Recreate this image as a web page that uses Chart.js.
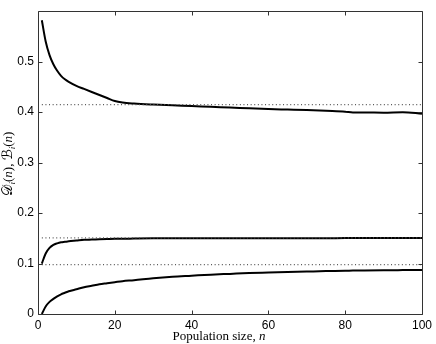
<!DOCTYPE html>
<html>
<head>
<meta charset="utf-8">
<script src="https://cdn.jsdelivr.net/npm/chart.js@4.4.0/dist/chart.umd.min.js"></script>
<style>
  html, body { margin: 0; padding: 0; background: #fff; }
  #grafica { display: block; }
</style>
</head>
<body>
<canvas id="grafica" width="436" height="344"></canvas>
<script>
// DATOS
const nValues = [1, 2, 3, 4, 5, 6, 7, 8, 10, 12, 14, 16, 18, 20, 22, 25, 30, 35, 40, 45, 50, 55, 60, 65, 70, 75, 80, 82, 85, 90, 95, 100];
const curvaD  = [0.582, 0.540, 0.513, 0.495, 0.482, 0.472, 0.465, 0.460, 0.452, 0.446, 0.440, 0.434, 0.428, 0.422, 0.419, 0.417, 0.415, 0.4135, 0.412, 0.4105, 0.409, 0.4075, 0.406, 0.405, 0.404, 0.4025, 0.401, 0.3995, 0.3995, 0.399, 0.400, 0.397];
const curvaB1 = [0.100, 0.120, 0.131, 0.137, 0.140, 0.142, 0.143, 0.144, 0.1455, 0.147, 0.1475, 0.148, 0.1485, 0.149, 0.149, 0.1495, 0.150, 0.150, 0.150, 0.150, 0.150, 0.150, 0.150, 0.150, 0.150, 0.150, 0.1505, 0.1505, 0.1505, 0.1505, 0.1505, 0.1505];
const curvaB2 = [0.000, 0.015, 0.024, 0.030, 0.035, 0.039, 0.042, 0.045, 0.049, 0.053, 0.056, 0.059, 0.061, 0.063, 0.065, 0.067, 0.071, 0.074, 0.076, 0.078, 0.0795, 0.081, 0.082, 0.083, 0.084, 0.085, 0.0855, 0.086, 0.0863, 0.0867, 0.087, 0.0873];

// lineas punteadas (limites)
const limiteN = [1, 100];
const limites = [0.415, 0.151, 0.098];

const xTicks = [0, 20, 40, 60, 80, 100];
const yTicks = [0, 0.1, 0.2, 0.3, 0.4, 0.5];

/////////////

function puntos(xs, ys) {
  return xs.map((x, i) => ({ x: x, y: ys[i] }));
}

const datasets = [];
limites.forEach(v => {
  datasets.push({
    data: puntos(limiteN, [v, v]),
    borderColor: "#555",
    borderWidth: 1.2,
    borderDash: [1, 2.6],
    pointRadius: 0,
    fill: false
  });
});
[curvaD, curvaB1, curvaB2].forEach(serie => {
  datasets.push({
    data: puntos(nValues, serie),
    borderColor: "#000",
    borderWidth: 2,
    pointRadius: 0,
    cubicInterpolationMode: "monotone",
    fill: false
  });
});

// marco y ticks hacia adentro (estilo MATLAB)
const marco = {
  id: "marco",
  afterDatasetsDraw(chart) {
    const ctx = chart.ctx;
    const a = chart.chartArea;
    const sx = chart.scales.x, sy = chart.scales.y;
    const L = Math.round(a.left) + 0.5, R = Math.round(a.right) + 0.5;
    const T = Math.round(a.top) + 0.5, B = Math.round(a.bottom) + 0.5;
    ctx.save();
    ctx.strokeStyle = "#333";
    ctx.lineWidth = 1;
    ctx.beginPath();
    ctx.rect(L, T, R - L, B - T);
    xTicks.forEach(v => {
      const px = Math.round(sx.getPixelForValue(v)) + 0.5;
      ctx.moveTo(px, B); ctx.lineTo(px, B - 4);
      ctx.moveTo(px, T); ctx.lineTo(px, T + 4);
    });
    yTicks.forEach(v => {
      const py = Math.round(sy.getPixelForValue(v)) + 0.5;
      ctx.moveTo(L, py); ctx.lineTo(L + 4, py);
      ctx.moveTo(R, py); ctx.lineTo(R - 4, py);
    });
    ctx.stroke();
    ctx.restore();
  }
};

// titulos con letras caligraficas e italicas
function escribir(ctx, partes, x, y) {
  let w = 0;
  partes.forEach(p => { ctx.font = p.f; w += ctx.measureText(p.t).width; });
  let cx = x - w / 2;
  partes.forEach(p => {
    ctx.font = p.f;
    ctx.fillText(p.t, cx, y + (p.dy || 0));
    cx += ctx.measureText(p.t).width;
  });
}

const titulos = {
  id: "titulos",
  afterDraw(chart) {
    const ctx = chart.ctx;
    const a = chart.chartArea;
    const serif = "13px 'Liberation Serif', 'DejaVu Serif', serif";
    const serifI = "italic 13px 'Liberation Serif', 'DejaVu Serif', serif";
    const sub = "italic 9px 'Liberation Serif', 'DejaVu Serif', serif";
    const cal = "14px 'DejaVu Serif', 'DejaVu Sans', serif";
    ctx.save();
    ctx.fillStyle = "#000";
    ctx.textBaseline = "alphabetic";
    escribir(ctx, [
      { t: "Population size, ", f: serif },
      { t: "n", f: serifI }
    ], 219, 340);

    ctx.translate(12, (a.top + a.bottom) / 2 + 1);
    ctx.rotate(-Math.PI / 2);
    escribir(ctx, [
      { t: "\u{1D49F}", f: cal },
      { t: "i", f: sub, dy: 3 },
      { t: "(", f: serif },
      { t: "n", f: serifI },
      { t: "), ", f: serif },
      { t: "\u212C", f: cal },
      { t: "i", f: sub, dy: 3 },
      { t: "(", f: serif },
      { t: "n", f: serifI },
      { t: ")", f: serif }
    ], 0, 0);
    ctx.restore();
  }
};

let micanvas = document.getElementById("grafica").getContext("2d");
var char = new Chart(micanvas, {
  type: "line",
  data: { datasets: datasets },
  options: {
    responsive: false,
    animation: false,
    devicePixelRatio: 1,
    layout: { padding: { top: 9, right: 13.5, left: 0, bottom: 0 } },
    plugins: { legend: { display: false }, tooltip: { enabled: false } },
    scales: {
      x: {
        type: "linear",
        min: 0,
        max: 100,
        afterBuildTicks: s => { s.ticks = xTicks.map(v => ({ value: v })); },
        afterFit: s => { s.height = 30; },
        grid: { display: false, drawTicks: false },
        border: { display: false },
        ticks: {
          padding: 4,
          maxRotation: 0,
          color: "#000",
          font: { family: "'Liberation Sans', Arial, sans-serif", size: 12 },
          callback: v => String(v)
        }
      },
      y: {
        type: "linear",
        min: 0,
        max: 0.6,
        afterBuildTicks: s => { s.ticks = yTicks.map(v => ({ value: v })); },
        afterFit: s => { s.width = 38; },
        grid: { display: false, drawTicks: false },
        border: { display: false },
        ticks: {
          padding: 4,
          color: "#000",
          font: { family: "'Liberation Sans', Arial, sans-serif", size: 12 },
          callback: v => String(v)
        }
      }
    }
  },
  plugins: [marco, titulos]
});
</script>
</body>
</html>
